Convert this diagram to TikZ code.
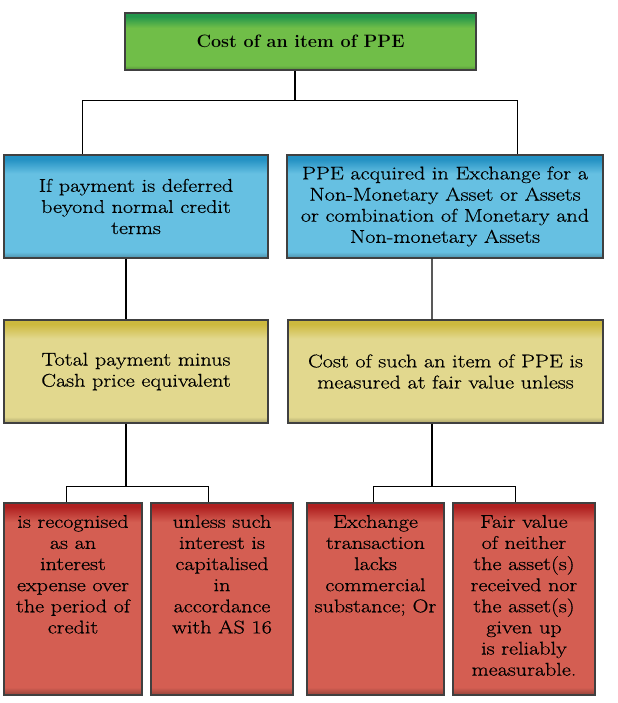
\documentclass[tikz,border=0pt]{standalone}
\usepackage{fontspec}
\usetikzlibrary{positioning}

\newfontfamily\boxfont{Latin Modern Roman}[FakeStretch=1.2, FakeBold=0.6]

\definecolor{greentop}{RGB}{35,150,75}
\definecolor{greenmid}{RGB}{112,190,72}
\definecolor{bluetop}{RGB}{35,145,195}
\definecolor{bluemid}{RGB}{102,192,226}
\definecolor{yellowtop}{RGB}{205,185,62}
\definecolor{yellowmid}{RGB}{226,216,142}
\definecolor{redtop}{RGB}{175,32,32}
\definecolor{redmid}{RGB}{212,94,82}

% the path covers 25bp..75bp of each shading
\pgfdeclareverticalshading{greenshade}{100bp}{color(0bp)=(greenmid!75!black); color(25bp)=(greenmid!75!black); color(29bp)=(greenmid); color(62bp)=(greenmid); color(72bp)=(greentop); color(100bp)=(greentop)}
\pgfdeclareverticalshading{blueshade}{100bp}{color(0bp)=(bluemid!75!black); color(25bp)=(bluemid!75!black); color(28bp)=(bluemid); color(66bp)=(bluemid); color(73bp)=(bluetop); color(100bp)=(bluetop)}
\pgfdeclareverticalshading{yellowshade}{100bp}{color(0bp)=(yellowmid!75!black); color(25bp)=(yellowmid!75!black); color(28bp)=(yellowmid); color(66bp)=(yellowmid); color(73bp)=(yellowtop); color(100bp)=(yellowtop)}
\pgfdeclareverticalshading{redshade}{100bp}{color(0bp)=(redmid!70!black); color(25bp)=(redmid!70!black); color(27bp)=(redmid); color(70bp)=(redmid); color(74bp)=(redtop); color(100bp)=(redtop)}

\tikzset{
  box/.style={rectangle, draw=black!75, line width=1.4pt, inner sep=0pt,
    align=center, font=\boxfont\fontsize{18.5}{21.2}\selectfont},
  greenbox/.style={box, shading=greenshade, font=\fontsize{18}{21}\selectfont\bfseries},
  bluebox/.style={box, shading=blueshade, minimum height=103bp},
  yellowbox/.style={box, shading=yellowshade, minimum height=103bp},
  redbox/.style={box, shading=redshade, inner ysep=12bp, minimum height=192bp},
  stem/.style={black, line width=1.4pt},
  branch/.style={black, line width=0.8pt}
}

\begin{document}
\begin{tikzpicture}[x=1bp, y=-1bp]
\useasboundingbox (0,0) rectangle (618,703);

\node[greenbox, minimum width=351bp, minimum height=57bp] (top) at (300.5,41.5) {Cost of an item of PPE};

\node[bluebox, minimum width=264bp] (defer) at (136,206.5) {If payment is deferred\\beyond normal credit\\terms};
\node[bluebox, minimum width=316bp] (exch) at (445,206.5) {PPE acquired in Exchange for a\\Non-Monetary Asset or Assets\\or combination of Monetary and\\Non-monetary Assets};

\node[yellowbox, minimum width=264bp] (total) at (136,371.5) {Total payment minus\\Cash price equivalent};
\node[yellowbox, minimum width=315bp] (costfv) at (445.5,371.5) {Cost of such an item of PPE is\\measured at fair value unless};

\node[redbox, minimum width=138bp] (recog) at (73,599) {\parbox[c][168bp][t]{136bp}{\centering is recognised\\as an\\interest\\expense over\\the period of\\credit}};
\node[redbox, minimum width=142bp] (unless) at (222,599) {\parbox[c][168bp][t]{140bp}{\centering unless such\\interest is\\capitalised\\in\\accordance\\with AS 16}};
\node[redbox, minimum width=137bp] (lacks) at (375.5,599) {\parbox[c][168bp][t]{135bp}{\centering Exchange\\transaction\\lacks\\commercial\\substance; Or}};
\node[redbox, minimum width=142bp] (neither) at (524,599) {\parbox[c][168bp][t]{140bp}{\centering Fair value\\of neither\\the asset(s)\\received nor\\the asset(s)\\given up\\is reliably\\measurable.}};

% top level
\draw[stem] ([xshift=-5.5bp]top.south) -- ++(0,30) coordinate (jt);
\draw[branch] ([xshift=-54bp]defer.north) |- (jt) -| ([xshift=72bp]exch.north);

% blue to yellow
\draw[stem] ([xshift=-10bp]defer.south) -- ([xshift=-10bp]total.north);
\draw[stem] ([xshift=-13bp]exch.south) -- ([xshift=-13.5bp]costfv.north);

% yellow to red
\draw[stem] ([xshift=-10bp]total.south) -- ++(0,63) coordinate (jl);
\draw[branch] ([xshift=-7bp]recog.north) |- (jl) -| ([xshift=-14bp]unless.north);
\draw[stem] ([xshift=-13.5bp]costfv.south) -- ++(0,63) coordinate (jr);
\draw[branch] ([xshift=-2.5bp]lacks.north) |- (jr) -| ([xshift=-9bp]neither.north);
\end{tikzpicture}
\end{document}
